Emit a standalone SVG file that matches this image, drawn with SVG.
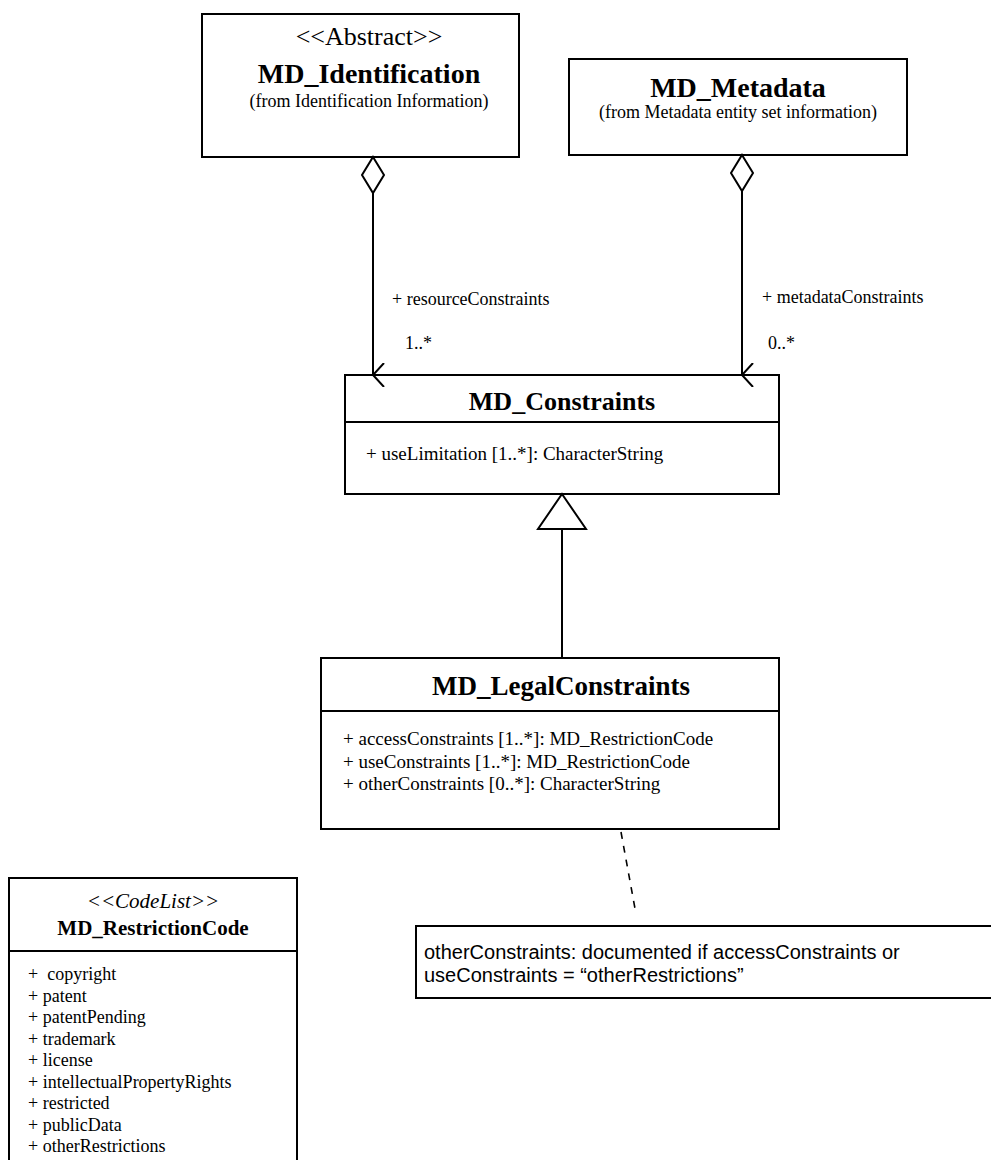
<svg xmlns="http://www.w3.org/2000/svg" width="991" height="1160" viewBox="0 0 991 1160">
<style>
text{font-family:"Liberation Serif","Times New Roman",serif;fill:#000}
.box{fill:#fff;stroke:#000;stroke-width:2}
.ln{stroke:#000;stroke-width:2;fill:none}
.dash{stroke:#000;stroke-width:1.6;fill:none;stroke-dasharray:7,7}
.t{font-weight:bold;text-anchor:middle}
.c{text-anchor:middle}
.lbl{font-size:18px}
.attr{font-size:19px}
.note{font-family:"Liberation Sans",Arial,sans-serif;font-size:20px}
.item{font-size:18px;white-space:pre}
</style>
<defs>
<marker id="open" viewBox="0 0 24 14" refX="12" refY="12" markerWidth="24" markerHeight="14" markerUnits="userSpaceOnUse" orient="auto-start-reverse">
<path d="M0,1 L12,12 L24,1" fill="none" stroke="#000" stroke-width="2"/>
</marker>
</defs>
<g id="MD_Identification">
<rect class="box" x="202" y="14" width="317" height="143"/>
<text class="c" x="369" y="45" font-size="26">&lt;&lt;Abstract&gt;&gt;</text>
<text class="t" x="369" y="83" font-size="28">MD_Identification</text>
<text class="c" x="369" y="107" font-size="18">(from Identification Information)</text>
</g>
<g id="MD_Metadata">
<rect class="box" x="569" y="59" width="338" height="96"/>
<text class="t" x="738" y="97" font-size="28">MD_Metadata</text>
<text class="c" x="738" y="118" font-size="18">(from Metadata entity set information)</text>
</g>
<g id="MD_Constraints">
<rect class="box" x="345" y="375" width="434" height="119"/>
<line class="ln" x1="345" y1="422" x2="779" y2="422"/>
<text class="t" x="562" y="410" font-size="26">MD_Constraints</text>
<text class="attr" x="366" y="460">+ useLimitation [1..*]: CharacterString</text>
</g>
<g id="MD_LegalConstraints">
<rect class="box" x="321" y="658" width="458" height="171"/>
<line class="ln" x1="321" y1="711" x2="779" y2="711"/>
<text class="t" x="561" y="695" font-size="27">MD_LegalConstraints</text>
<text class="attr" x="343" y="745">+ accessConstraints [1..*]: MD_RestrictionCode</text>
<text class="attr" x="343" y="768">+ useConstraints [1..*]: MD_RestrictionCode</text>
<text class="attr" x="343" y="790">+ otherConstraints [0..*]: CharacterString</text>
</g>
<g id="note">
<rect class="box" x="416" y="926" width="600" height="72"/>
<text class="note" x="424" y="959">otherConstraints: documented if accessConstraints or</text>
<text class="note" x="424" y="982">useConstraints = “otherRestrictions”</text>
</g>
<g id="MD_RestrictionCode">
<rect class="box" x="9" y="878" width="288" height="300"/>
<line class="ln" x1="9" y1="951" x2="297" y2="951"/>
<text class="c" x="153" y="908" font-size="21" font-style="italic">&lt;&lt;CodeList&gt;&gt;</text>
<text class="t" x="153" y="935" font-size="21">MD_RestrictionCode</text>
<text class="item" x="28" y="980">+  copyright</text>
<text class="item" x="28" y="1001.5">+ patent</text>
<text class="item" x="28" y="1023">+ patentPending</text>
<text class="item" x="28" y="1044.5">+ trademark</text>
<text class="item" x="28" y="1066">+ license</text>
<text class="item" x="28" y="1087.5">+ intellectualPropertyRights</text>
<text class="item" x="28" y="1109">+ restricted</text>
<text class="item" x="28" y="1130.5">+ publicData</text>
<text class="item" x="28" y="1152">+ otherRestrictions</text>
</g>
<g id="connectors">
<path class="ln" d="M373,157 L384,175 L373,193 L362,175 Z" fill="#fff"/>
<line class="ln" x1="373" y1="193" x2="373" y2="375" marker-end="url(#open)"/>
<path class="ln" d="M742,155 L753,173 L742,191 L731,173 Z" fill="#fff"/>
<line class="ln" x1="742" y1="191" x2="742" y2="375" marker-end="url(#open)"/>
<path class="ln" d="M562,494 L586,529 L538,529 Z" fill="#fff"/>
<line class="ln" x1="562" y1="529" x2="562" y2="658"/>
<line class="dash" x1="621" y1="832" x2="636" y2="914"/>
<text class="lbl" x="392" y="305">+ resourceConstraints</text>
<text class="lbl" x="405" y="349">1..*</text>
<text class="lbl" x="762" y="303">+ metadataConstraints</text>
<text class="lbl" x="768" y="349">0..*</text>
</g>
</svg>
